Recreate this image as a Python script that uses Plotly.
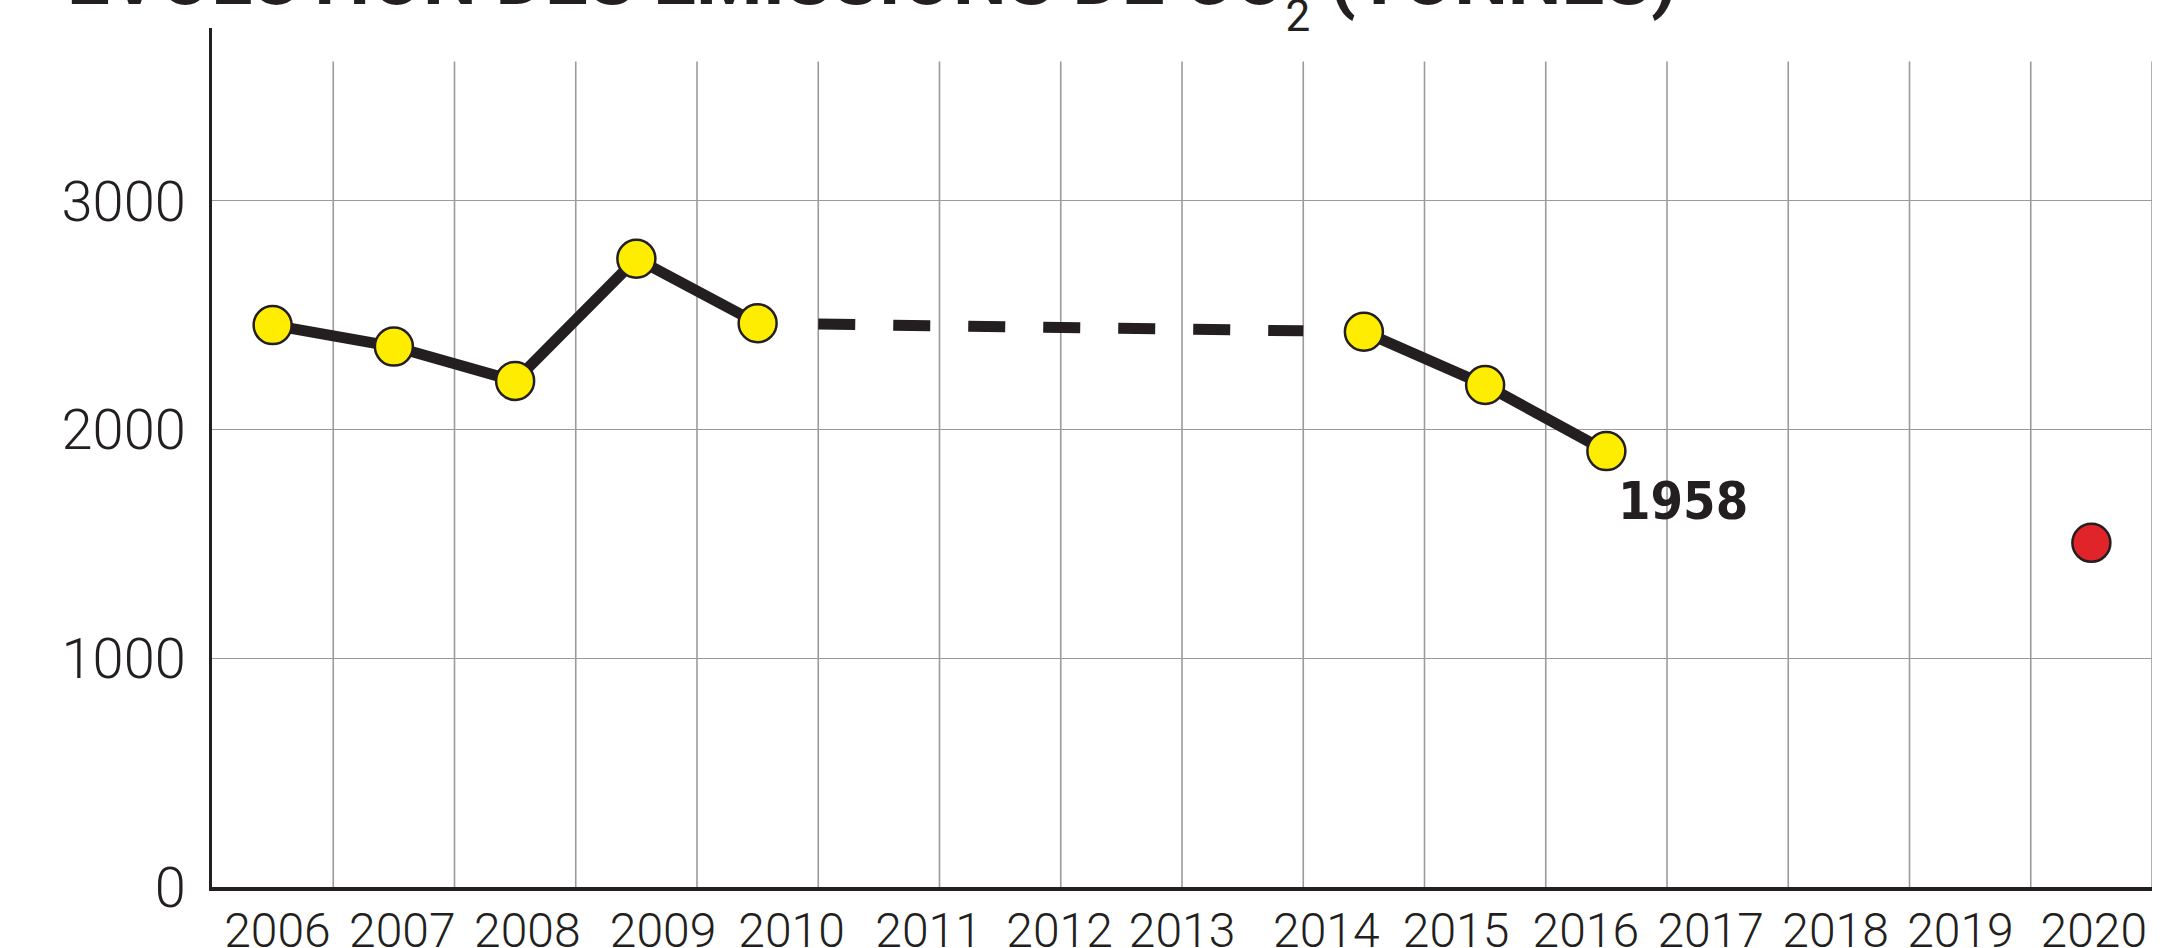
import plotly.graph_objects as go

# ---- data ----
years_a = [2006, 2007, 2008, 2009, 2010]
co2_a = [2457, 2363, 2213, 2747, 2465]
years_b = [2014, 2015, 2016]
co2_b = [2428, 2195, 1906]
target_years = [2020]
target_co2 = [1505]
last_label = "1958"
axis_years = list(range(2006, 2021))
y_ticks = [0, 1000, 2000, 3000]

# ---- layout constants ----
W, H = 2173, 948
DARK = "#231f20"
GRID = "#9b9b9b"
YELLOW = "#FFED00"
RED = "#E1242A"
FONT_AX = "Roboto, sans-serif"
FONT_LBL = "DejaVu Sans Condensed, sans-serif"
# x-axis is laid out in 16 equal slots; the 2010-2014 gap is stretched by one slot
tick_slots = [0.54, 1.57, 2.60, 3.72, 4.78, 5.91, 6.99, 8.0, 9.19, 10.26, 11.33,
              12.36, 13.39, 14.42, 15.52]


def slot(year):
    if year <= 2010:
        return year - 2005.5
    if year <= 2014:
        return 4.5 + (year - 2010) * 1.25
    return year - 2004.5


xa = [slot(y) for y in years_a]
xb = [slot(y) for y in years_b]
xt = [slot(y) for y in target_years]

# dashed connector between the two series (through the missing years)
x0, x1 = xa[-1], xb[0]
y0, y1 = co2_a[-1], co2_b[0]
dx0, dx1 = x0 + 0.5, x1 - 0.5
dy0 = y0 + (y1 - y0) * (dx0 - x0) / (x1 - x0)
dy1 = y0 + (y1 - y0) * (dx1 - x0) / (x1 - x0)

fig = go.Figure()

fig.add_trace(go.Scatter(
    x=[dx0, dx1], y=[dy0, dy1], mode="lines",
    line=dict(color=DARK, width=11, dash="37px,38px"),
    hoverinfo="skip", showlegend=False))

marker_style = dict(size=38, color=YELLOW, line=dict(color=DARK, width=2.5))
for xs, ys in ((xa, co2_a), (xb, co2_b)):
    fig.add_trace(go.Scatter(
        x=xs, y=ys, mode="lines+markers",
        line=dict(color=DARK, width=11),
        marker=marker_style, showlegend=False))

fig.add_trace(go.Scatter(
    x=xt, y=target_co2, mode="markers",
    marker=dict(size=38, color=RED, line=dict(color=DARK, width=2.5)),
    showlegend=False))

# vertical grid lines (stop short of the top of the y axis)
shapes = []
for k in range(1, 17):
    shapes.append(dict(type="line", xref="x", yref="y", x0=k, x1=k, y0=0, y1=3610,
                       line=dict(color=GRID, width=1.6), layer="below"))

annotations = [
    dict(text=last_label, x=slot(2016) + 0.63, y=1686, xref="x", yref="y",
         showarrow=False, xanchor="center", yanchor="middle",
         font=dict(family=FONT_LBL, size=52, color=DARK, weight="bold")),
    dict(text="ÉVOLUTION DES ÉMISSIONS DE CO<sub><sub>"
              "<span style='font-size:44px;font-weight:normal'>2</span></sub></sub> (TONNES)",
         x=(65 - 212) / 1940, y=(887 - 44) / 859, xref="paper", yref="paper",
         showarrow=False, xanchor="left", yanchor="bottom",
         font=dict(family="Roboto, sans-serif", size=76, color=DARK, weight="bold")),
]

fig.update_layout(
    width=W, height=H,
    margin=dict(l=212, r=21, t=28, b=61),
    paper_bgcolor="white", plot_bgcolor="white",
    shapes=shapes, annotations=annotations,
    xaxis=dict(range=[0, 16], showgrid=False, zeroline=False, automargin=False,
               showline=True, linecolor=DARK, linewidth=3.5,
               tickmode="array", tickvals=tick_slots,
               ticktext=[str(y) for y in axis_years],
               ticks="", ticklabelstandoff=-1, tickangle=0,
               tickfont=dict(family=FONT_AX, size=48, color=DARK, weight=300)),
    yaxis=dict(range=[0, 3756], showgrid=True, gridcolor=GRID, gridwidth=1.4,
               zeroline=False, showline=True, linecolor=DARK, linewidth=3,
               automargin=False,
               tickmode="array", tickvals=y_ticks,
               ticks="", ticklabelstandoff=12,
               tickfont=dict(family=FONT_AX, size=56, color=DARK, weight=300)),
)

fig.write_html("out.html", config={"displayModeBar": False},
               post_script="document.body.style.margin='0';")
